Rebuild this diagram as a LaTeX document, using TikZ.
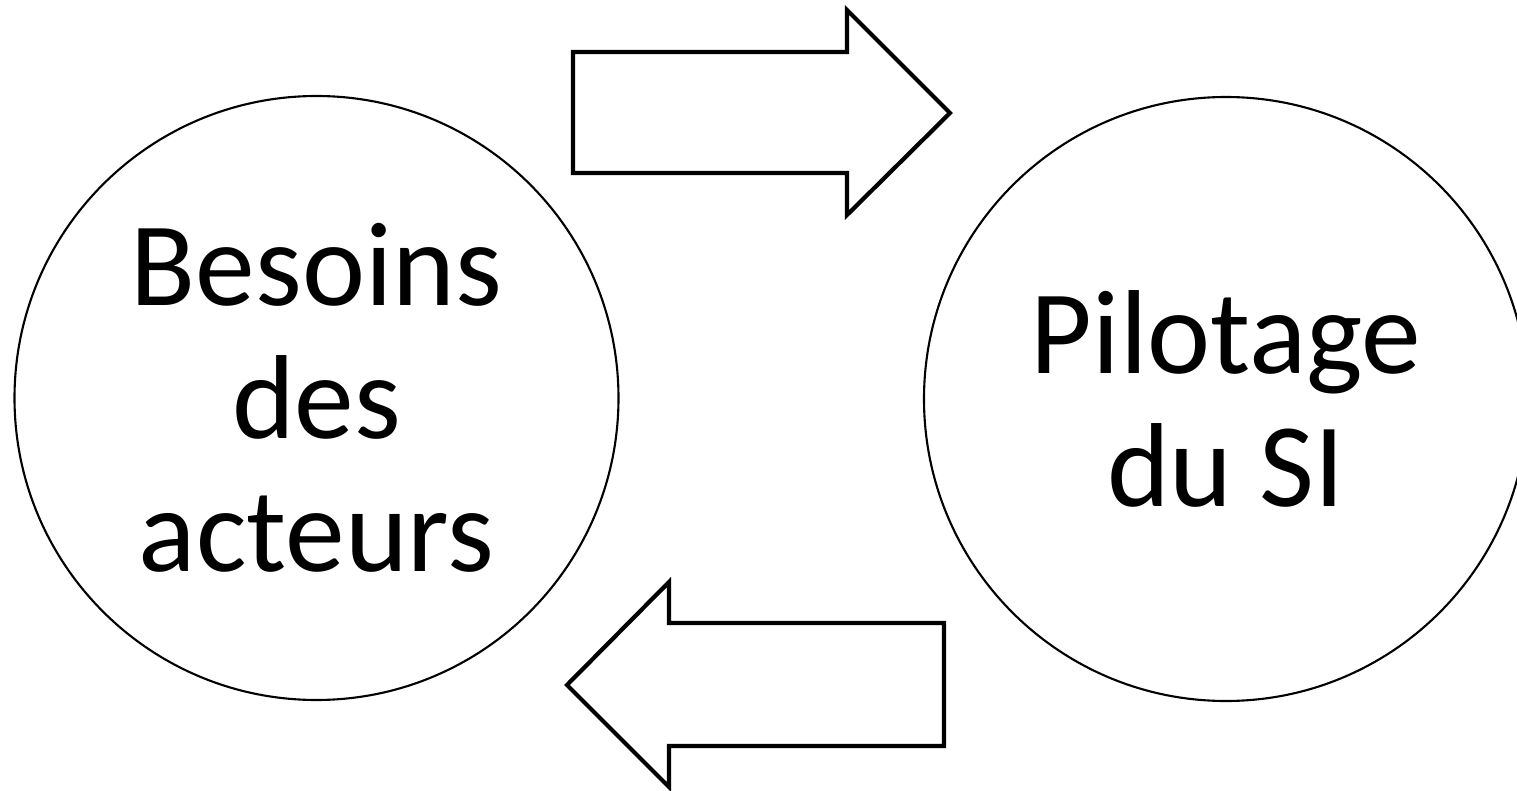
\documentclass[tikz,border=0pt]{standalone}
\usepackage{fontspec}
\setmainfont{Carlito}
\usetikzlibrary{shapes.geometric}

\begin{document}
\begin{tikzpicture}[
    pole/.style={ellipse, draw, line width=0.6pt, inner sep=0pt, align=center,
      minimum width=6.04cm, minimum height=6.04cm, font=\fontsize{34}{37.8}\selectfont},
    bigarrow/.style={draw, line width=1.2pt, miter limit=10}]
    \useasboundingbox (0,0) rectangle (15.17,-7.91);

    \node[pole] (besoins) at (3.165,-3.98) {Besoins\\des\\acteurs};
    \node[pole] (pilotage) at (12.26,-3.99) {Pilotage\\du SI};

    % aller
    \draw[bigarrow] (5.73,-0.52) -- (8.47,-0.52) -- (8.47,-0.10) -- (9.50,-1.13)
      -- (8.47,-2.15) -- (8.47,-1.73) -- (5.73,-1.73) -- cycle;
    % retour
    \draw[bigarrow] (9.44,-6.23) -- (6.69,-6.23) -- (6.69,-5.82) -- (5.67,-6.85)
      -- (6.69,-7.87) -- (6.69,-7.46) -- (9.44,-7.46) -- cycle;
\end{tikzpicture}
\end{document}
